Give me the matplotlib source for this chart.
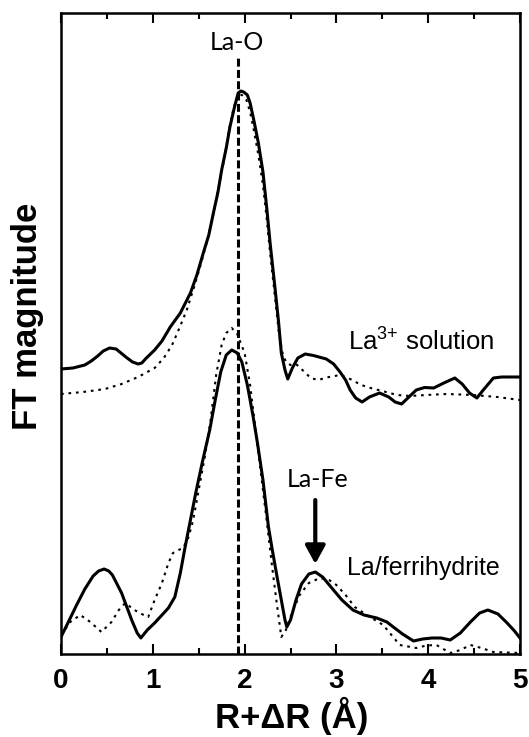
import matplotlib
matplotlib.use("Agg")
import matplotlib.pyplot as plt
from matplotlib.ticker import MultipleLocator

plt.rcParams["mathtext.default"] = "regular"

# ---- FT magnitude spectra (arbitrary units, stacked) ----
r_sol = [0.00, 0.13, 0.26, 0.33, 0.40, 0.46, 0.53, 0.60, 0.68, 0.72, 0.78, 0.84,
         0.88, 0.93, 1.02, 1.10, 1.19, 1.30, 1.41, 1.48, 1.55, 1.61, 1.66, 1.71,
         1.75, 1.80, 1.84, 1.89, 1.93, 1.96, 1.99, 2.03, 2.06, 2.10, 2.15, 2.20,
         2.24, 2.28, 2.33, 2.37, 2.40, 2.44, 2.47, 2.52, 2.58, 2.66, 2.75, 2.89,
         2.97, 3.04, 3.10, 3.15, 3.21, 3.28, 3.36, 3.47, 3.57, 3.64, 3.71, 3.79,
         3.87, 3.96, 4.06, 4.17, 4.29, 4.37, 4.45, 4.53, 4.60, 4.71, 4.80, 5.00]
ft_sol = [2.85, 2.86, 2.89, 2.93, 2.98, 3.03, 3.06, 3.05, 2.99, 2.96, 2.92, 2.90,
          2.91, 2.96, 3.04, 3.13, 3.27, 3.41, 3.61, 3.79, 4.01, 4.19, 4.41, 4.62,
          4.84, 5.06, 5.27, 5.47, 5.61, 5.63, 5.62, 5.59, 5.51, 5.34, 5.11, 4.82,
          4.47, 4.09, 3.67, 3.32, 3.01, 2.84, 2.75, 2.86, 2.96, 3.00, 2.985, 2.95,
          2.90, 2.82, 2.74, 2.64, 2.56, 2.52, 2.57, 2.61, 2.57, 2.52, 2.50, 2.57,
          2.64, 2.665, 2.66, 2.71, 2.76, 2.70, 2.61, 2.56, 2.64, 2.76, 2.77, 2.77]

r_sol_fit = [0.00, 0.24, 0.48, 0.66, 0.84, 1.02, 1.12, 1.21, 1.29, 1.37, 1.45, 1.53,
             1.60, 1.66, 1.72, 1.78, 1.83, 1.88, 1.93, 1.97, 2.02, 2.06, 2.10, 2.15,
             2.20, 2.24, 2.28, 2.33, 2.37, 2.41, 2.45, 2.50, 2.56, 2.63, 2.72, 2.80,
             2.92, 3.04, 3.15, 3.25, 3.33, 3.50, 3.66, 3.80, 3.98, 4.20, 4.49, 4.75,
             5.00]
ft_sol_fit = [2.60, 2.62, 2.65, 2.70, 2.77, 2.86, 2.96, 3.09, 3.26, 3.44, 3.67, 3.92,
              4.16, 4.40, 4.68, 4.96, 5.24, 5.46, 5.60, 5.59, 5.54, 5.42, 5.24, 4.99,
              4.69, 4.36, 3.99, 3.58, 3.24, 3.02, 2.92, 2.89, 2.90, 2.84, 2.76, 2.74,
              2.77, 2.79, 2.75, 2.70, 2.67, 2.63, 2.59, 2.58, 2.59, 2.60, 2.59, 2.57,
              2.54]

r_fh = [0.00, 0.08, 0.17, 0.26, 0.35, 0.41, 0.47, 0.52, 0.56, 0.66, 0.77, 0.83,
        0.87, 0.94, 1.02, 1.10, 1.17, 1.24, 1.30, 1.35, 1.41, 1.47, 1.54, 1.62,
        1.68, 1.74, 1.80, 1.86, 1.92, 1.97, 2.03, 2.09, 2.14, 2.20, 2.26, 2.30,
        2.35, 2.40, 2.44, 2.46, 2.50, 2.56, 2.62, 2.70, 2.77, 2.85, 2.95, 3.06,
        3.18, 3.30, 3.44, 3.55, 3.62, 3.72, 3.84, 3.94, 4.04, 4.14, 4.24, 4.35,
        4.46, 4.56, 4.65, 4.76, 4.86, 4.94, 5.00]
ft_fh = [0.17, 0.32, 0.49, 0.65, 0.78, 0.83, 0.85, 0.83, 0.79, 0.61, 0.34, 0.21,
         0.16, 0.24, 0.31, 0.39, 0.46, 0.57, 0.81, 1.06, 1.34, 1.62, 1.92, 2.24,
         2.54, 2.82, 2.99, 3.04, 3.01, 2.92, 2.69, 2.39, 2.11, 1.74, 1.27, 1.05,
         0.79, 0.54, 0.34, 0.27, 0.34, 0.54, 0.70, 0.80, 0.82, 0.77, 0.66, 0.54,
         0.44, 0.39, 0.36, 0.32, 0.27, 0.20, 0.13, 0.15, 0.16, 0.16, 0.14, 0.21,
         0.32, 0.41, 0.44, 0.40, 0.31, 0.23, 0.16]

r_fh_fit = [0.00, 0.10, 0.21, 0.32, 0.44, 0.55, 0.63, 0.70, 0.80, 0.90, 0.95, 1.02,
            1.10, 1.17, 1.22, 1.28, 1.33, 1.39, 1.44, 1.50, 1.57, 1.63, 1.69, 1.75,
            1.80, 1.86, 1.92, 2.00, 2.06, 2.12, 2.18, 2.24, 2.30, 2.35, 2.40, 2.45,
            2.52, 2.60, 2.70, 2.82, 2.92, 3.00, 3.10, 3.20, 3.33, 3.51, 3.60, 3.69,
            3.87, 3.98, 4.09, 4.24, 4.35, 4.46, 4.58, 4.71, 5.00]
ft_fh_fit = [0.19, 0.32, 0.39, 0.32, 0.22, 0.32, 0.44, 0.51, 0.44, 0.39, 0.37, 0.54,
             0.71, 0.91, 1.01, 1.04, 1.06, 1.17, 1.34, 1.64, 1.99, 2.34, 2.79, 3.09,
             3.21, 3.26, 3.20, 3.01, 2.69, 2.24, 1.79, 1.34, 0.87, 0.51, 0.17, 0.24,
             0.42, 0.59, 0.71, 0.76, 0.74, 0.69, 0.59, 0.47, 0.39, 0.29, 0.19, 0.09,
             0.06, 0.085, 0.09, 0.01, 0.04, 0.09, 0.06, 0.02, 0.01]

la_o_r = 1.925          # La-O reference distance
la_fe_r = 2.77          # La-Fe shell marker

x_ticks = [0, 1, 2, 3, 4, 5]
x_tick_labels = ["0", "1", "2", "3", "4", "5"]

# ---- figure ----
fig = plt.figure(figsize=(5.29, 7.37), dpi=100)
ax = fig.add_axes([61 / 529, 1 - 654 / 737, (520 - 61) / 529, (654 - 13) / 737])

ax.plot(r_sol, ft_sol, color="black", lw=2.2, solid_joinstyle="round", zorder=3)
ax.plot(r_sol_fit, ft_sol_fit, color="black", lw=1.5, linestyle=(0, (1.3, 2.3)), zorder=2)
ax.plot(r_fh, ft_fh, color="black", lw=2.2, solid_joinstyle="round", zorder=3)
ax.plot(r_fh_fit, ft_fh_fit, color="black", lw=1.5, linestyle=(0, (1.3, 2.3)), zorder=2)

ax.plot([la_o_r, la_o_r], [0, 5.97], color="black", lw=2.2,
        linestyle=(0, (2.6, 1.1)), zorder=4)

text_font = ["Lato", "DejaVu Sans"]
label_font = ["Liberation Sans", "DejaVu Sans"]
ax.text(1.915, 6.11, "La-O", ha="center", va="center", fontsize=18, family=text_font)
ax.text(2.80, 1.74, "La-Fe", ha="center", va="center", fontsize=18, family=text_font)
ax.text(3.13, 3.12, "La$^{3{+}}$ solution", ha="left", va="center", fontsize=18.5,
        family=label_font)
ax.text(3.12, 0.86, "La/ferrihydrite", ha="left", va="center", fontsize=18,
        family=label_font)

ax.annotate("", xy=(la_fe_r, 0.90), xytext=(la_fe_r, 1.54),
            arrowprops=dict(arrowstyle="-|>,head_length=1.1,head_width=0.6",
                            color="black", lw=3, shrinkA=0, shrinkB=0))

ax.set_xlim(0, 5)
ax.set_ylim(0, 6.41)
ax.set_xticks(x_ticks)
ax.set_xticklabels(x_tick_labels, fontsize=20, fontweight="bold", family=label_font)
ax.xaxis.set_minor_locator(MultipleLocator(0.5))
ax.set_yticks([])
ax.tick_params(axis="x", which="both", direction="in", top=True, bottom=True,
               width=1.5, pad=10)
ax.tick_params(axis="x", which="major", length=7.5)
ax.tick_params(axis="x", which="minor", length=4.3)
for sp in ax.spines.values():
    sp.set_linewidth(1.8)

fig.text(28 / 529, 1 - 316 / 737, "FT magnitude", rotation=90, ha="center",
         va="center", fontsize=25, fontweight="bold", family=label_font)
fig.text(292 / 529, 1 - 728 / 737, "R+\u0394R (\u00c5)", ha="center", va="baseline",
         fontsize=25, fontweight="bold", family=label_font)

fig.savefig("out.png", dpi=100)
